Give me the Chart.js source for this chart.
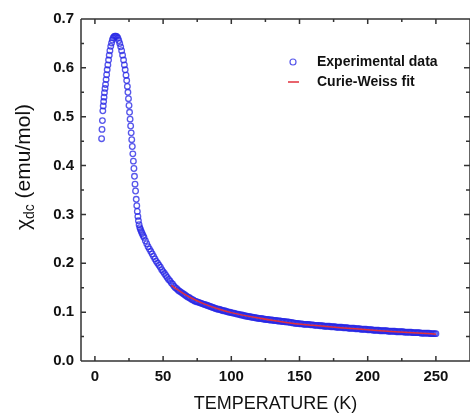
<!DOCTYPE html>
<html><head><meta charset="utf-8">
<script src="https://cdn.jsdelivr.net/npm/chart.js@4/dist/chart.umd.min.js"></script>
<style>html,body{margin:0;padding:0;background:#fff}#wrap{width:470px;height:415px}</style>
</head><body><div id="wrap"><canvas id="c" width="470" height="415"></canvas></div>
<script>
// ---- data ----
const temperatureK = [4.9,5.2,5.5,5.8,6.1,6.4,6.7,7.0,7.4,7.8,8.2,8.6,9.0,9.5,10.0,10.5,11.0,11.6,12.2,12.8,13.4,14.0,14.7,15.4,16.1,16.8,17.5,18.2,18.9,19.6,20.3,21.0,21.6,22.2,22.8,23.3,23.8,24.2,24.6,25.0,25.4,25.8,26.2,26.6,27.0,27.4,27.8,28.2,28.6,29.0,29.4,29.8,30.3,30.7,31.1,31.5,31.9,32.4,32.9,33.4,34.0,34.6,35.3,
36,37,38,39,40,41,42,43,44,45,46,47,48,49,50,51,52,53,54,55,56,57,58,59,60,61,62,63,64,65,66,67,68,69,70,71,72,73,74,75,76,77,78,79,80,81,82,83,84,85,86,87,88,89,90,91,92,93,94,95,96,97,98,99,100,
101,102,103,104,105,106,107,108,109,110,111,112,113,114,115,116,117,118,119,120,121,122,123,124,125,126,127,128,129,130,131,132,133,134,135,136,137,138,139,140,141,142,143,144,145,146,147,148,149,150,
151,152,153,154,155,156,157,158,159,160,161,162,163,164,165,166,167,168,169,170,171,172,173,174,175,176,177,178,179,180,181,182,183,184,185,186,187,188,189,190,191,192,193,194,195,196,197,198,199,200,
201,202,203,204,205,206,207,208,209,210,211,212,213,214,215,216,217,218,219,220,221,222,223,224,225,226,227,228,229,230,231,232,233,234,235,236,237,238,239,240,241,242,243,244,245,246,247,248,249,250];
const chiExperimental = [0.455,0.474,0.492,0.512,0.522,0.531,0.540,0.549,0.558,0.566,0.576,0.586,0.596,0.606,0.616,0.626,0.635,0.644,0.651,0.657,0.661,0.664,0.665,0.665,0.664,0.661,0.656,0.650,0.643,0.635,0.626,0.616,0.606,0.596,0.585,0.574,0.562,0.550,0.537,0.523,0.509,0.495,0.481,0.467,0.453,0.439,0.424,0.409,0.394,0.378,0.362,0.348,0.331,0.318,0.306,0.296,0.287,0.279,0.273,0.269,0.265,0.261,0.257,
0.253,0.246,0.240,0.234,0.229,0.224,0.219,0.214,0.209,0.204,0.200,0.196,0.192,0.187,0.183,0.179,0.175,0.171,0.167,0.164,0.160,0.157,0.153,0.150,0.148,0.145,0.143,0.141,0.139,0.137,0.135,0.133,0.131,0.130,0.128,0.126,0.125,0.123,0.122,0.121,0.120,0.119,0.118,0.117,0.116,0.115,0.114,0.113,0.112,0.111,0.110,0.109,0.108,0.107,0.106,0.106,0.105,0.104,0.103,0.103,0.102,0.101,0.100,0.100,0.099,
0.098,0.098,0.097,0.096,0.096,0.095,0.094,0.094,0.093,0.092,0.092,0.091,0.091,0.090,0.090,0.089,0.089,0.088,0.088,0.087,0.087,0.087,0.086,0.086,0.085,0.085,0.085,0.084,0.084,0.084,0.083,0.083,0.083,0.082,0.082,0.082,0.081,0.081,0.081,0.080,0.080,0.080,0.079,0.079,0.078,0.078,0.077,0.077,0.077,0.076,
0.076,0.076,0.075,0.075,0.075,0.075,0.075,0.074,0.074,0.074,0.073,0.073,0.073,0.073,0.072,0.072,0.072,0.071,0.071,0.071,0.071,0.071,0.070,0.070,0.070,0.070,0.069,0.069,0.069,0.069,0.069,0.068,0.068,0.068,0.068,0.067,0.067,0.067,0.067,0.067,0.066,0.066,0.066,0.066,0.065,0.065,0.065,0.065,0.065,0.064,
0.064,0.064,0.064,0.063,0.063,0.063,0.063,0.063,0.062,0.062,0.062,0.062,0.062,0.062,0.061,0.061,0.061,0.061,0.061,0.061,0.060,0.060,0.060,0.060,0.060,0.060,0.059,0.059,0.059,0.059,0.059,0.059,0.058,0.058,0.058,0.058,0.058,0.058,0.057,0.057,0.057,0.057,0.057,0.057,0.057,0.056,0.056,0.056,0.056,0.056];
const fitTemperatureK = [56,60,65,70,80,90,100,120,140,160,180,200,220,240,250];
const chiFit = [0.155,0.147,0.138,0.130,0.117,0.107,0.099,0.088,0.079,0.073,0.068,0.064,0.060,0.057,0.055];
const seriesLabels = ['Experimental data','Curie-Weiss fit'];
const xTickValues = [0,50,100,150,200,250];
const xMinorValues = [25,75,125,175,225];
const yTickValues = [0,0.1,0.2,0.3,0.4,0.5,0.6,0.7];
const yMinorValues = [0.05,0.15,0.25,0.35,0.45,0.55,0.65];
const xTitle = 'TEMPERATURE (K)';
const yTitleMain = 'χ', yTitleSub = 'dc', yTitleRest = ' (emu/mol)';

// ---- styling ----
const expColor = 'rgba(40,40,230,0.78)';
const fitColor = '#e0303c';
const axisColor = '#333';
const FONT = "'Liberation Sans', Arial, sans-serif";

const frameTicks = {
  id: 'frameTicks',
  afterDatasetsDraw(chart) {
    const ctx = chart.ctx, a = chart.chartArea, xs = chart.scales.x, ys = chart.scales.y;
    ctx.save();
    ctx.strokeStyle = axisColor; ctx.lineWidth = 1.5;
    ctx.beginPath();
    ctx.moveTo(a.left, a.top); ctx.lineTo(a.right, a.top);
    ctx.moveTo(a.left, a.bottom); ctx.lineTo(a.right, a.bottom);
    ctx.moveTo(a.left, a.top); ctx.lineTo(a.left, a.bottom);
    ctx.moveTo(a.right, a.top); ctx.lineTo(a.right, a.bottom);
    const tick = (vals, len, isX) => {
      vals.forEach(v => {
        if (isX) {
          const p = xs.getPixelForValue(v);
          ctx.moveTo(p, a.bottom); ctx.lineTo(p, a.bottom - len);
          ctx.moveTo(p, a.top); ctx.lineTo(p, a.top + len);
        } else {
          const p = ys.getPixelForValue(v);
          ctx.moveTo(a.left, p); ctx.lineTo(a.left + len, p);
          ctx.moveTo(a.right, p); ctx.lineTo(a.right - len - 1, p);
        }
      });
    };
    tick(xTickValues, 5, true); tick(xMinorValues, 3, true);
    tick(yTickValues, 5, false); tick(yMinorValues, 3, false);
    ctx.stroke();

    // y title with subscript
    ctx.fillStyle = '#111';
    ctx.textBaseline = 'middle'; ctx.textAlign = 'left';
    const mainF = '21px ' + FONT, subF = '14px ' + FONT;
    ctx.font = mainF; const w1 = ctx.measureText(yTitleMain).width;
    ctx.font = subF; const w2 = ctx.measureText(yTitleSub).width;
    ctx.font = mainF; const w3 = ctx.measureText(yTitleRest).width;
    const total = w1 + w2 + w3;
    ctx.translate(24, 167 + total / 2);
    ctx.rotate(-Math.PI / 2);
    ctx.font = mainF; ctx.fillText(yTitleMain, 0, 0);
    ctx.font = subF; ctx.fillText(yTitleSub, w1, 6);
    ctx.font = mainF; ctx.fillText(yTitleRest, w1 + w2, 0);
    ctx.restore();

    // legend
    ctx.save();
    ctx.font = 'bold 14px ' + FONT; ctx.fillStyle = '#111';
    ctx.textBaseline = 'middle'; ctx.textAlign = 'left';
    ctx.strokeStyle = expColor; ctx.lineWidth = 1.2;
    ctx.beginPath(); ctx.arc(293, 62, 3, 0, Math.PI * 2); ctx.stroke();
    ctx.fillText(seriesLabels[0], 317, 62);
    ctx.strokeStyle = fitColor; ctx.lineWidth = 1.5;
    ctx.beginPath(); ctx.moveTo(288, 82); ctx.lineTo(299, 82); ctx.stroke();
    ctx.fillText(seriesLabels[1], 317, 82);
    ctx.restore();
  }
};

new Chart(document.getElementById('c'), {
  type: 'scatter',
  data: {
    datasets: [
      {
        label: seriesLabels[0],
        data: temperatureK.map((t, i) => ({x: t, y: chiExperimental[i]})),
        showLine: false, pointStyle: 'circle', pointRadius: 2.8, pointBorderWidth: 1.3,
        pointBorderColor: expColor, pointBackgroundColor: 'rgba(0,0,0,0)', order: 2
      },
      {
        label: seriesLabels[1],
        data: fitTemperatureK.map((t, i) => ({x: t, y: chiFit[i]})),
        showLine: true, pointRadius: 0, borderColor: fitColor, borderWidth: 1.5,
        cubicInterpolationMode: 'monotone', fill: false, order: 1
      }
    ]
  },
  options: {
    responsive: false, animation: false, devicePixelRatio: 1,
    layout: {autoPadding: false, padding: {left: 0, right: -1, top: 19, bottom: 0}},
    plugins: {legend: {display: false}, tooltip: {enabled: false}},
    scales: {
      x: {
        type: 'linear', min: -10.2, max: 275,
        afterBuildTicks: s => { s.ticks = xTickValues.map(v => ({value: v})); },
        afterFit: s => { s.height = 54; s.paddingLeft = 0; s.paddingRight = 0; },
        grid: {display: false, drawTicks: false}, border: {display: false},
        ticks: {font: {family: FONT, size: 15, weight: 'bold'}, color: '#111', padding: 7, maxRotation: 0, autoSkip: false},
        title: {display: true, text: xTitle, font: {family: FONT, size: 18}, color: '#111', padding: {top: 0, bottom: 0}}
      },
      y: {
        type: 'linear', min: 0, max: 0.7,
        afterBuildTicks: s => { s.ticks = yTickValues.map(v => ({value: v})); },
        afterFit: s => { s.width = 81; s.paddingTop = 0; s.paddingBottom = 0; },
        grid: {display: false, drawTicks: false}, border: {display: false},
        ticks: {font: {family: FONT, size: 15, weight: 'bold'}, color: '#111', padding: 7, callback: v => Number(v).toFixed(1)}
      }
    }
  },
  plugins: [frameTicks]
});
</script></body></html>
